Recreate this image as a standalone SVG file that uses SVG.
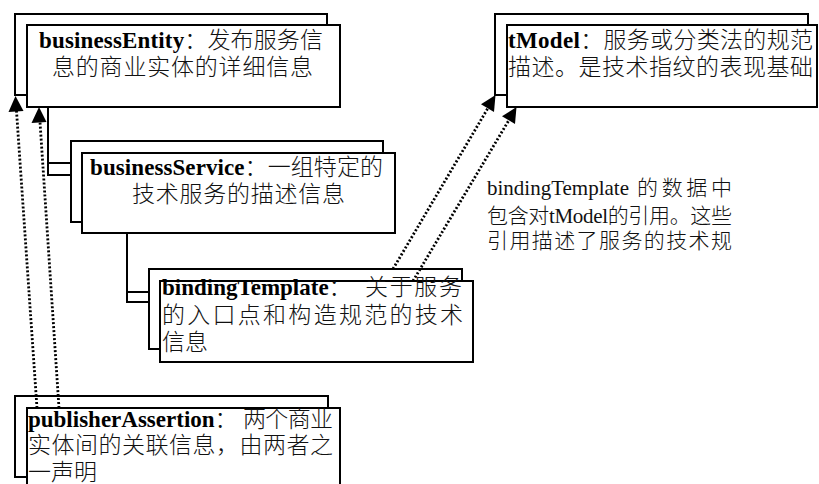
<svg xmlns="http://www.w3.org/2000/svg" width="819" height="484" viewBox="0 0 819 484">
  <style>
    .card { fill: #ffffff; stroke: #000000; stroke-width: 2; }
    .tree { fill: none; stroke: #000000; stroke-width: 2; }
    .ref { fill: none; stroke: #000000; stroke-width: 2.8; stroke-dasharray: 2 2; }
    text { font-family: "Liberation Serif", "Noto Sans CJK SC", serif; font-size: 23px; font-weight: 300; fill: #111111; }
    .b { font-weight: 700; fill: #000000; }
    .note { font-size: 21px; }
  </style>

  <rect x="0" y="0" width="819" height="484" fill="#ffffff"/>

  <!-- containment lines: entity -> service -> binding -->
  <g id="connectors">
    <path class="tree" d="M48,107 V175 H82 M48,163 H71"/>
    <path class="tree" d="M127,233 V302 H160 M127,292 H149"/>
  </g>

  <g id="businessEntity">
    <rect class="card" x="15" y="14" width="312" height="81"/>
    <rect class="card" x="27" y="25" width="313" height="82"/>
    <text x="39" y="48" textLength="284" lengthAdjust="spacing"><tspan class="b">businessEntity</tspan>：发布服务信</text>
    <text x="52" y="75" textLength="261" lengthAdjust="spacing">息的商业实体的详细信息</text>
  </g>

  <g id="tModel">
    <rect class="card" x="495" y="14" width="313" height="81"/>
    <rect class="card" x="507" y="25" width="310" height="82"/>
    <text x="508" y="48" textLength="305" lengthAdjust="spacing"><tspan class="b">tModel</tspan>：服务或分类法的规范</text>
    <text x="508" y="75" textLength="305" lengthAdjust="spacing">描述。是技术指纹的表现基础</text>
  </g>

  <g id="businessService">
    <rect class="card" x="71" y="141" width="312" height="81"/>
    <rect class="card" x="82" y="153" width="313" height="80"/>
    <text x="90" y="175" textLength="293" lengthAdjust="spacing"><tspan class="b">businessService</tspan>：一组特定的</text>
    <text x="132" y="202" textLength="213" lengthAdjust="spacing">技术服务的描述信息</text>
  </g>

  <g id="bindingTemplate">
    <rect class="card" x="149" y="269" width="313" height="80"/>
    <rect class="card" x="160" y="281" width="313" height="81"/>
    <text y="295"><tspan class="b" x="162">bindingTemplate</tspan><tspan>：</tspan><tspan x="365" textLength="97" lengthAdjust="spacing">关于服务</tspan></text>
    <text x="162" y="323" textLength="301" lengthAdjust="spacing">的入口点和构造规范的技术</text>
    <text x="162" y="350">信息</text>
  </g>

  <g id="publisherAssertion">
    <rect class="card" x="15" y="396" width="313" height="81"/>
    <rect class="card" x="27" y="408" width="313" height="90"/>
    <text y="427"><tspan class="b" x="28">publisherAssertion</tspan><tspan>：</tspan><tspan x="243" textLength="90" lengthAdjust="spacing">两个商业</tspan></text>
    <text x="28" y="453" textLength="305" lengthAdjust="spacing">实体间的关联信息，由两者之</text>
    <text x="28" y="480">一声明</text>
  </g>

  <!-- dotted reference arrows, each ending at a filled head -->
  <g id="references">
    <line class="ref" x1="37" y1="408" x2="16.5" y2="111"/>
    <path d="M15.5,96 L23.5,111 L8.5,112 Z" fill="#000000"/>
    <line class="ref" x1="59" y1="408" x2="40" y2="122"/>
    <path d="M39,107 L46.5,122 L31.5,123 Z" fill="#000000"/>
    <line class="ref" x1="393" y1="269" x2="488" y2="108"/>
    <path d="M495.5,95 L494,112 L481,104.3 Z" fill="#000000"/>
    <line class="ref" x1="413" y1="281" x2="509" y2="120"/>
    <path d="M516.5,107 L515,124 L502,116.3 Z" fill="#000000"/>
  </g>

  <g id="note">
    <text class="note" x="487" y="195">bindingTemplate</text>
    <text class="note" x="637" y="195" textLength="95" lengthAdjust="spacing">的数据中</text>
    <text class="note" x="487" y="223" textLength="245" lengthAdjust="spacing">包含对tModel的引用。这些</text>
    <text class="note" x="487" y="248" textLength="245" lengthAdjust="spacing">引用描述了服务的技术规</text>
  </g>
</svg>
